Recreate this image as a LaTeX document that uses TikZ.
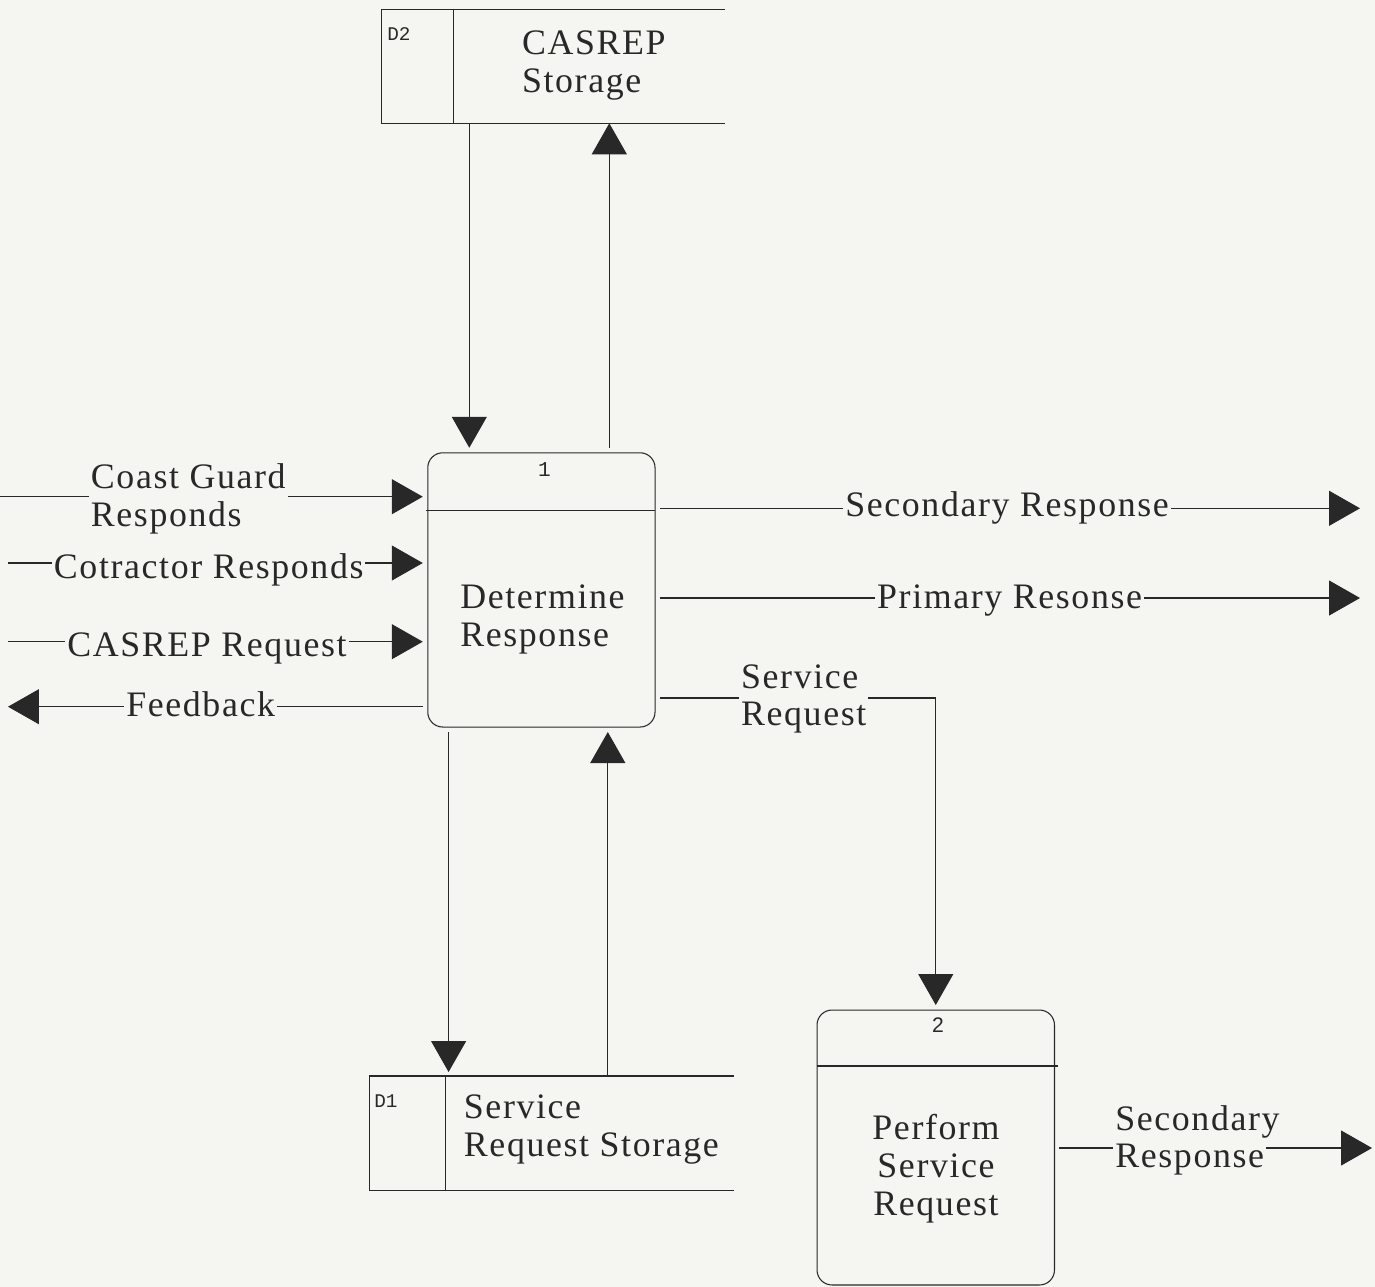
\documentclass[tikz,border=0pt]{standalone}
\usepackage{fontspec}
\setmainfont{Liberation Serif}[LetterSpace=4.5]
\newfontfamily\idmono{Liberation Mono}
\newfontfamily\idsans{Liberation Sans}
\usetikzlibrary{arrows.meta}
\definecolor{bg}{RGB}{245,245,241}
\definecolor{ink}{RGB}{40,40,40}
\newcommand\lblfont{\fontsize{20.4pt}{21.5pt}\selectfont}
\begin{document}
\begin{tikzpicture}[x=0.02cm,y=-0.02cm,
  line/.style={draw=ink, line width=0.6pt},
  flow/.style={line, -{Triangle[length=0.62cm,width=0.7cm]}},
  proc/.style={line, rounded corners=0.3cm, inner sep=0pt, outer sep=0.1cm},
  store/.style={inner sep=0pt, outer sep=0pt},
  txt/.style={font=\lblfont, text=ink, inner sep=0pt},
  lbl/.style={font=\lblfont, text=ink, fill=bg, inner xsep=0.04cm, inner ysep=0.02cm},
  idm/.style={font=\idmono\fontsize{11pt}{13pt}\selectfont, text=ink, inner sep=0pt},
  ids/.style={font=\idsans\fontsize{12pt}{14pt}\selectfont, text=ink, inner sep=0pt}]
\fill[bg] (0,0) rectangle (1375,1287);
\useasboundingbox (0,0) rectangle (1375,1287);

% processes
\node[proc, minimum width=4.546cm, minimum height=5.486cm] (P1) at (541.4,589.9) {};
\node[proc, minimum width=4.75cm, minimum height=5.5cm] (P2) at (935.75,1147.5) {};
% stores
\node[store, minimum width=6.866cm, minimum height=2.28cm] (D2) at (553.35,66.3) {};
\node[store, minimum width=7.286cm, minimum height=2.294cm] (D1) at (551.85,1133.35) {};

% rows / columns
\coordinate (r1) at (0,510.7);
\coordinate (r2) at (0,1066);
\coordinate (cgS) at (0,496.7);
\coordinate (ctS) at (8,563);
\coordinate (crS) at (8,641.7);
\coordinate (fbE) at (8,706.7);
\coordinate (srE) at (1360,508.3);
\coordinate (prE) at (1360,598);
\coordinate (srq) at (0,698);
\coordinate (p2E) at (1372,1148);
\coordinate (xa) at (469.3,0);
\coordinate (xb) at (609.3,0);
\coordinate (xc) at (448.6,0);
\coordinate (xd) at (607.8,0);
\coordinate (d1top) at ([yshift=0.08cm]D1.north);

% store outlines
\draw[line] (D2.north east) -- (D2.north west) -- (D2.south west) -- (D2.south east);
\draw[line] ([xshift=1.432cm]D2.north west) -- ([xshift=1.432cm]D2.south west);
\draw[line] (D1.north east) -- (D1.north west) -- (D1.south west) -- (D1.south east);
\draw[line] ([xshift=1.514cm]D1.north west) -- ([xshift=1.514cm]D1.south west);

% process dividers
\draw[line] ([xshift=0.06cm]P1.west |- r1) -- ([xshift=-0.1cm]P1.east |- r1);
\draw[line] ([xshift=0.1cm]P2.west |- r2) -- ([xshift=-0.03cm]P2.east |- r2);

% connectors
\draw[flow] (D2.south -| xa) -- (P1.north -| xa);
\draw[flow] (P1.north -| xb) -- (D2.south -| xb);
\draw[flow] (P1.south -| xc) -- (d1top -| xc);
\draw[flow] (D1.north -| xd) -- (P1.south -| xd);
\draw[flow] (cgS) -- (P1.west |- cgS);
\draw[flow] (ctS) -- (P1.west |- ctS);
\draw[flow] (crS) -- (P1.west |- crS);
\draw[flow] (P1.west |- fbE) -- (fbE);
\draw[flow] (P1.east |- srE) -- (srE);
\draw[flow] (P1.east |- prE) -- (prE);
\draw[flow] (P1.east |- srq) -| (P2.north);
\draw[flow] (P2.east |- p2E) -- (p2E);

% connector labels
\node[lbl, anchor=west, align=left] (Lcg) at (88.6,498.6) {Coast Guard\\Responds};
\node[lbl, anchor=base west] (Lct) at (51.6,578) {Cotractor Responds};
\node[lbl, anchor=base west] (Lcr) at (65,656) {CASREP Request};
\node[lbl, anchor=base west] (Lfb) at (124,716) {Feedback};
\node[lbl, anchor=base west] (Lsr) at (843,516.7) {Secondary Response};
\node[lbl, anchor=base west] (Lpr) at (874.8,608) {Primary Resonse};
\node[lbl, anchor=west, align=left] (Lsq) at (738.8,699) {Service\\Request};
\node[lbl, anchor=base west, fill=none] (Lsec) at (1113,1130) {Secondary};
\node[lbl, anchor=base west] (Lresp) at (1113,1167) {Response};

% texts in shapes
\node[txt, anchor=west, align=left] (D2t) at (521.7,65.2) {CASREP\\Storage};
\node[idm, anchor=base west] (D2id) at (387,41) {D2};
\node[txt, anchor=west, align=left] (D1t) at (463.6,1129.6) {Service\\Request Storage};
\node[idm, anchor=base west] (D1id) at (374,1107) {D1};
\node[txt, anchor=west, align=left] (P1t) at (460,619.1) {Determine\\Response};
\node[idm, anchor=base, font=\idmono\fontsize{12pt}{14pt}\selectfont] (P1id) at (544.5,476) {1};
\node[txt, align=center] (P2t) at (936,1168.5) {Perform\\Service\\Request};
\node[ids, anchor=base] (P2id) at (938,1032) {2};
\end{tikzpicture}
\end{document}
